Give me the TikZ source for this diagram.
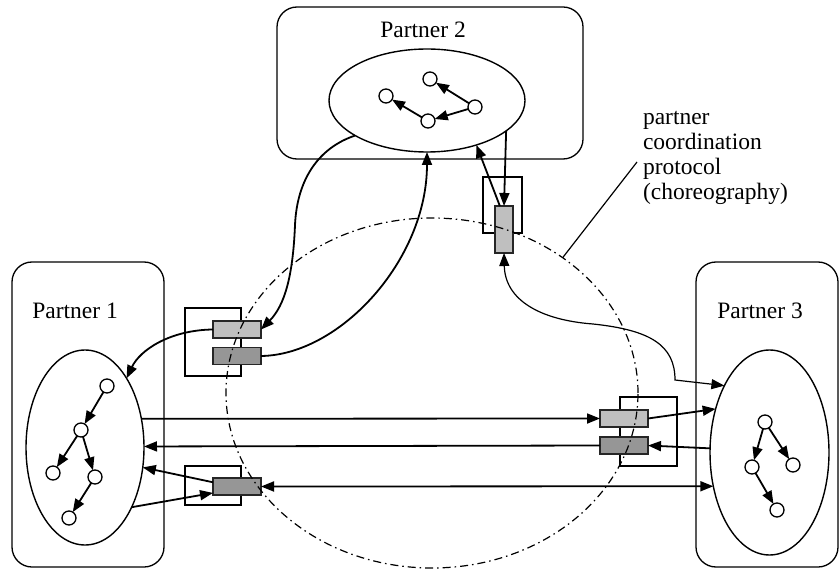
\documentclass[tikz,border=0pt]{standalone}
\usepackage{fontspec}
\setmainfont{Liberation Serif}
\usetikzlibrary{arrows.meta,shapes.geometric}
\definecolor{portlt}{gray}{0.75}
\definecolor{portdk}{gray}{0.59}
\tikzset{
  tip/.tip={Triangle[length=13pt,width=10pt]},
  partnerbox/.style={draw, rectangle, line width=1.3pt, rounded corners=20pt},
  proc/.style={draw, ellipse, line width=1.4pt},
  state/.style={draw, circle, line width=1.3pt, fill=white, minimum size=14pt},
  flow/.style={line width=1.8pt, -tip},
  twoway/.style={line width=1.8pt, tip-tip},
  thinflow/.style={line width=1.2pt, tip-tip},
  portframe/.style={draw, rectangle, line width=1.1pt},
  lightport/.style={draw=black!85, fill=portlt, line width=1.4pt, rectangle},
  darkport/.style={draw=black!85, fill=portdk, line width=1.4pt, rectangle},
  label/.style={font=\fontsize{23.5}{25}\selectfont}
}
\begin{document}
\begin{tikzpicture}[x=1pt,y=-1pt, every node/.style={inner sep=0pt, outer sep=0pt}]
\useasboundingbox (0,0) rectangle (840,569);

% partner boxes
\node[partnerbox, minimum width=306pt, minimum height=152pt] (p2) at (430,83) {};
\node[partnerbox, minimum width=152pt, minimum height=305pt] (p1) at (88,414.5) {};
\node[partnerbox, minimum width=142pt, minimum height=305pt] (p3) at (767,414.5) {};

\node[label, anchor=base] (p2t) at (423,38) {Partner 2};
\node[label, anchor=base] (p1t) at (75,318) {Partner 1};
\node[label, anchor=base] (p3t) at (760,318) {Partner 3};

% internal processes
\node[proc, minimum width=196pt, minimum height=103pt] (e2) at (427,100.5) {};
\node[proc, minimum width=118pt, minimum height=195pt] (e1) at (85,447.5) {};
\node[proc, minimum width=119pt, minimum height=205pt] (e3) at (769.5,452.5) {};

% partner 2 states
\node[state] (c1) at (386,96) {};
\node[state] (c2) at (430,79) {};
\node[state] (c3) at (475,107) {};
\node[state] (c4) at (428,121) {};
\draw[flow] (c3) -- (c2);
\draw[flow] (c3) -- (c4);
\draw[flow] (c4) -- (c1);

% partner 1 states
\node[state] (a1) at (107,386) {};
\node[state] (a2) at (81,430) {};
\node[state] (a3) at (53,473) {};
\node[state] (a4) at (95,477) {};
\node[state] (a5) at (69,518) {};
\draw[flow] (a1) -- (a2);
\draw[flow] (a2) -- (a3);
\draw[flow] (a2) -- (a4);
\draw[flow] (a4) -- (a5);

% partner 3 states
\node[state] (b1) at (765,422) {};
\node[state] (b2) at (752,467) {};
\node[state] (b3) at (793,465) {};
\node[state] (b4) at (777,510) {};
\draw[flow] (b1) -- (b2);
\draw[flow] (b1) -- (b3);
\draw[flow] (b2) -- (b4);

% port frames
\node[portframe, minimum width=56pt, minimum height=68pt] (fl) at (213,342) {};
\node[portframe, minimum width=56pt, minimum height=39pt] (fb) at (213,485.5) {};
\node[portframe, minimum width=57pt, minimum height=69pt] (fr) at (648.5,431.5) {};
\node[portframe, minimum width=39pt, minimum height=56pt] (ft) at (502.5,205) {};

% ports
\node[lightport, minimum width=48pt, minimum height=17pt] (ll) at (237,329.5) {};
\node[darkport,  minimum width=48pt, minimum height=17pt] (ld) at (237,356) {};
\node[darkport,  minimum width=48pt, minimum height=17pt] (bd) at (237,486.5) {};
\node[lightport, minimum width=48pt, minimum height=17pt] (rl) at (624,418.5) {};
\node[darkport,  minimum width=48pt, minimum height=17pt] (rd) at (624,445.5) {};
\node[lightport, minimum width=18pt, minimum height=47pt] (tp) at (504,229.5) {};

% message flows
\draw[flow] (e2.206.3) .. controls (318,148) and (297,180) .. (295,225)
            .. controls (293,275) and (285,305) .. (ll.east);
\draw[flow] (ld.east) .. controls (340,355) and (427,260) .. (e2.south);
\draw[flow] (e2.-21.2) -- (tp.north);
\draw[flow] (tp.100) -- (e2.-42.2);
\draw[thinflow] (tp.south) .. controls (505,300) and (540,320) .. (593,324)
            .. controls (650,330) and (675,345) .. (675,380) -- (e3.124.3);
\draw[flow] (ll.west) .. controls (170,330) and (140,350) .. (e1.59.2);
\draw[flow] (e1.27.24) -- (rl.west);
\draw[flow] (rd.west) -- (e1.1.94);
\draw[flow] (rl.east) -- (e3.141.1);
\draw[flow] (e3.176.6) -- (rd.east);
\draw[twoway] (bd.east) -- (e3.211.2);
\draw[flow] (bd.170) -- (e1.-19.6);
\draw[flow] (e1.-52.6) -- (bd.195);

% coordination protocol
\node[draw, ellipse, line width=1.2pt, dash pattern=on 8pt off 4pt on 1.5pt off 4pt,
      minimum width=412pt, minimum height=350pt] (cp) at (432,393) {};

% the base anchor of this node sits on its last line
\node[label, anchor=base west, align=left] (note) at (643,200)
  {partner\\coordination\\protocol\\(choreography)};
\coordinate (lead) at (637,162);
\draw[line width=1.2pt] (cp.46.1) -- (lead);
\end{tikzpicture}
\end{document}
